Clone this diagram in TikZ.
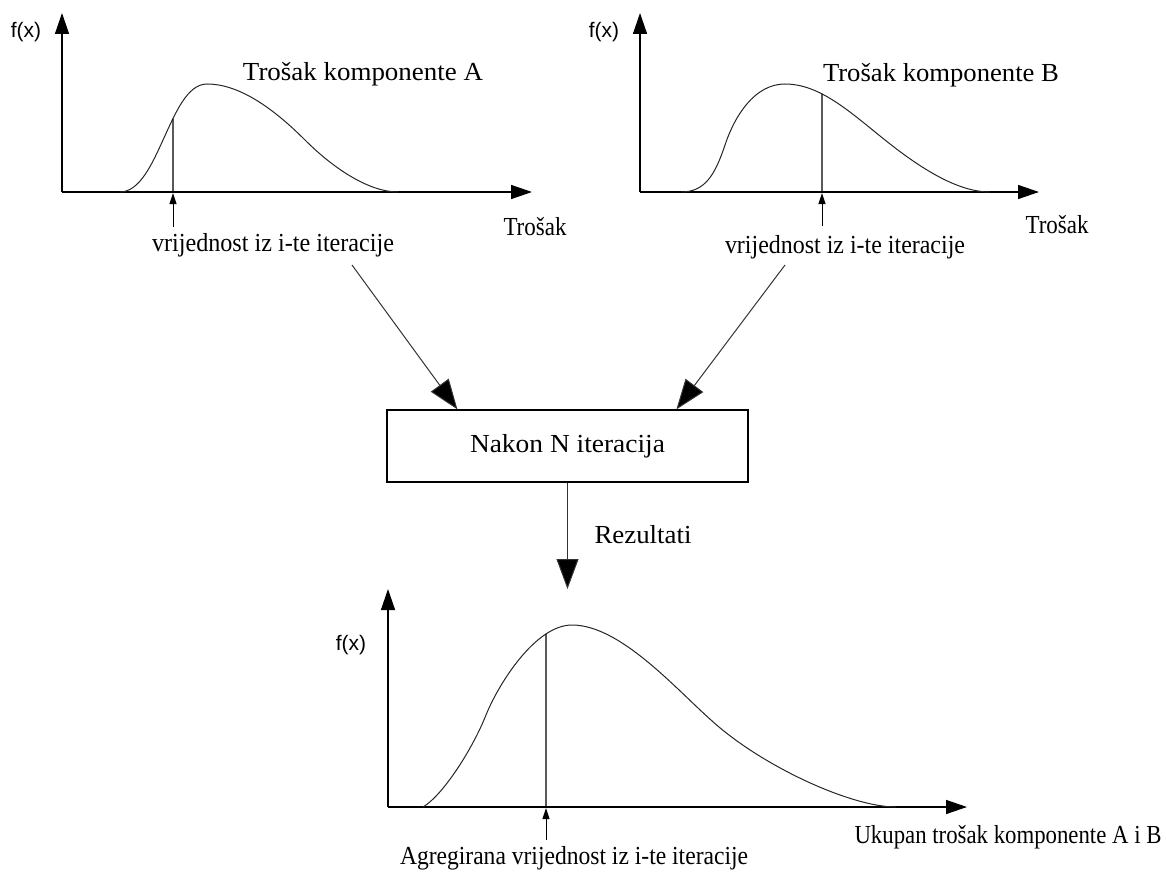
\documentclass[tikz,border=0pt]{standalone}
\usepackage{fontspec}
\setmainfont{Liberation Serif}
\newfontfamily\arialf{Liberation Sans}
\usetikzlibrary{arrows.meta,intersections,calc}
\newcommand{\fitw}[2]{\resizebox{#1}{\height}{#2}}
\begin{document}
\begin{tikzpicture}[x=1pt,y=-1pt,
  axisarrow/.style={line width=1.4pt,-{Triangle[length=21pt,width=14pt]}},
  curve/.style={line width=1pt,draw=black!85},
  vline/.style={line width=1.1pt,draw=black},
  smallarrow/.style={line width=1pt,-{Triangle[length=11pt,width=7pt]}},
  bigarrow/.style={line width=1pt,draw=black!80,-{Triangle[length=30pt,width=22pt,fill=black]}},
  lbl/.style={inner sep=0pt,font=\fontsize{26}{30}\selectfont},
  fx/.style={inner sep=0pt,font=\arialf\fontsize{21}{24}\selectfont},
  boxstyle/.style={draw,line width=1.2pt,minimum width=361pt,minimum height=72pt,inner sep=0pt,font=\fontsize{26}{30}\selectfont},
]
\useasboundingbox (0,0) rectangle (1166,872);

% ---------- Graph A ----------
\node[fx] (fxA) at (26,32) {f(x)};
\coordinate (oA) at (62,192);
\coordinate (yA) at (62,13);
\coordinate (xA) at (532,192);
\draw[axisarrow] (oA) -- (yA);
\draw[axisarrow] (oA) -- (xA);
\draw[curve,name path=cA] (120,192) .. controls (140,192) and (153,162) .. (163,140)
  .. controls (175,114) and (187,84) .. (207,84)
  .. controls (237,84) and (270,105) .. (305,140)
  .. controls (335,170) and (370,192) .. (398,192);
\coordinate (bA) at (173,192);
\path[name path=pathA] (173,192) -- (173,60);
\path[name intersections={of=cA and pathA,by=pA}];
\draw[vline] (bA) -- (pA);
\coordinate (sA) at (173,227);
\coordinate (tipA) at (173,193);
\draw[smallarrow] (sA) -- (tipA);
\node[lbl] (tA) at (363,74) {\fitw{240pt}{Trošak komponente A}};
\node[lbl] (trA) at (535,227) {\fitw{63pt}{Trošak}};
\node[lbl] (vA) at (273,245) {\fitw{242pt}{vrijednost iz i-te iteracije}};

% ---------- Graph B ----------
\node[fx] (fxB) at (604,32) {f(x)};
\coordinate (oB) at (640,192);
\coordinate (yB) at (640,13);
\coordinate (xB) at (1039,192);
\draw[axisarrow] (oB) -- (yB);
\draw[axisarrow] (oB) -- (xB);
\draw[curve,name path=cB] (681,192) .. controls (705,192) and (715,175) .. (725,145)
  .. controls (735,115) and (755,84) .. (785,84)
  .. controls (820,84) and (850,112) .. (885,140)
  .. controls (925,172) and (960,192) .. (990,192);
\coordinate (bB) at (822,192);
\path[name path=pathB] (822,192) -- (822,60);
\path[name intersections={of=cB and pathB,by=pB}];
\draw[vline] (bB) -- (pB);
\coordinate (sB) at (822,226);
\coordinate (tipB) at (822,193);
\draw[smallarrow] (sB) -- (tipB);
\node[lbl] (tB) at (941,75) {\fitw{236pt}{Trošak komponente B}};
\node[lbl] (trB) at (1057,225) {\fitw{63pt}{Trošak}};
\node[lbl] (vB) at (845,247) {\fitw{240pt}{vrijednost iz i-te iteracije}};

% ---------- Box ----------
\node[boxstyle] (box) at (567.5,446) {\fitw{195pt}{Nakon N iteracija}};
\coordinate (d1s) at (352,265);
\coordinate (d1e) at ($(box.north west)+(71,0)$);
\coordinate (d2s) at (785,265);
\coordinate (d2e) at ($(box.north west)+(290,0)$);
\draw[bigarrow] (d1s) -- (d1e);
\draw[bigarrow] (d2s) -- (d2e);
\coordinate (rEnd) at (567.5,589);
\draw[bigarrow] (box.south) -- (rEnd);
\node[lbl] (rez) at (643,535) {\fitw{97pt}{Rezultati}};

% ---------- Graph C ----------
\node[fx] (fxC) at (351,645) {f(x)};
\coordinate (oC) at (388,807);
\coordinate (yC) at (388,589);
\coordinate (xC) at (967,807);
\draw[axisarrow] (oC) -- (yC);
\draw[axisarrow] (oC) -- (xC);
\draw[curve,name path=cC] (423,807) .. controls (443,795) and (472,750) .. (486,715)
  .. controls (498,685) and (535,625) .. (572,625)
  .. controls (620,625) and (675,688) .. (711,720)
  .. controls (760,765) and (850,807) .. (896,807);
\coordinate (bC) at (546,807);
\path[name path=pathC] (546,807) -- (546,600);
\path[name intersections={of=cC and pathC,by=pC}];
\draw[vline] (bC) -- (pC);
\coordinate (sC) at (546,840);
\coordinate (tipC) at (546,808);
\draw[smallarrow] (sC) -- (tipC);
\node[lbl] (ukC) at (1008,837) {\fitw{307pt}{Ukupan trošak komponente A i B}};
\node[lbl] (agC) at (574,858) {\fitw{348pt}{Agregirana vrijednost iz i-te iteracije}};
\end{tikzpicture}
\end{document}
